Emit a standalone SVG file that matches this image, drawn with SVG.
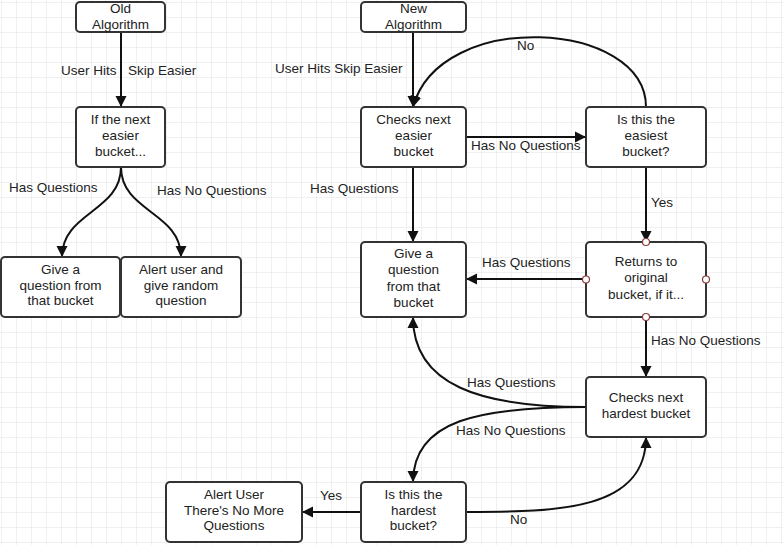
<svg xmlns="http://www.w3.org/2000/svg" width="783" height="545" viewBox="0 0 783 545">
  <style>
    .box { fill: #ffffff; stroke: #333333; stroke-width: 2; }
    .lbl { font-family: "Liberation Sans", Arial, sans-serif; font-size: 13.5px; fill: #222222; }
    .txt { font-family: "Liberation Sans", Arial, sans-serif; font-size: 13.5px; fill: #222222; text-anchor: middle; }
    .edge { fill: none; stroke: #111111; stroke-width: 2; marker-end: url(#arrow); }
    .port { fill: #ffffff; stroke: #8a3b3b; stroke-width: 1.2; }
  </style>
  <defs>
    <pattern id="grid" x="1" y="2" width="15" height="15" patternUnits="userSpaceOnUse">
      <path d="M0,0 H15 M0,0 V15" fill="none" stroke="#e2e2e2" stroke-width="1"/>
    </pattern>
    <marker id="arrow" markerUnits="userSpaceOnUse" markerWidth="12" markerHeight="12" refX="11" refY="6" orient="auto">
      <path d="M0,0.5 L11,6 L0,11.5 z" fill="#111111"/>
    </marker>
  </defs>

  <!-- background with grid -->
  <rect width="783" height="545" fill="#ffffff"/>
  <rect width="783" height="545" fill="url(#grid)"/>

  <!-- connectors -->
  <g id="connectors">
    <!-- old algorithm -->
    <path class="edge" d="M121,32 L121,107"/>
    <path class="edge" d="M121,167 C121,212 62,212 62,257"/>
    <path class="edge" d="M121,167 C121,212 181,212 181,257"/>
    <!-- new algorithm -->
    <path class="edge" d="M413,32 L413,107"/>
    <path class="edge" d="M466,137 L586,137"/>
    <path class="edge" d="M646,107 C646,20 440,8 413,107"/>
    <path class="edge" d="M646,167 L646,242"/>
    <path class="edge" d="M413,167 L413,242"/>
    <path class="edge" d="M586,279 L466,279"/>
    <path class="edge" d="M646,317 L646,377"/>
    <path class="edge" d="M586,407 C480,407 413,385 413,317"/>
    <path class="edge" d="M586,407 C480,407 413,420 413,482"/>
    <path class="edge" d="M466,512 C560,512 646,510 646,437"/>
    <path class="edge" d="M361,512 L302,512"/>

    <!-- connector labels -->
    <text class="lbl" x="61" y="75">User Hits</text>
    <text class="lbl" x="128" y="75">Skip Easier</text>
    <text class="lbl" x="9" y="192">Has Questions</text>
    <text class="lbl" x="157" y="195">Has No Questions</text>
    <text class="lbl" x="275" y="73">User Hits Skip Easier</text>
    <text class="lbl" x="517" y="50">No</text>
    <text class="lbl" x="471" y="150">Has No Questions</text>
    <text class="lbl" x="310" y="193">Has Questions</text>
    <text class="lbl" x="651" y="207">Yes</text>
    <text class="lbl" x="482" y="267">Has Questions</text>
    <text class="lbl" x="651" y="345">Has No Questions</text>
    <text class="lbl" x="467" y="387">Has Questions</text>
    <text class="lbl" x="456" y="435">Has No Questions</text>
    <text class="lbl" x="320" y="500">Yes</text>
    <text class="lbl" x="510" y="524">No</text>
  </g>

  <!-- old algorithm nodes -->
  <g id="old-algorithm">
    <rect class="box" x="76" y="2" width="89" height="30" rx="4"/>
    <text class="txt" x="120.5" y="13">Old</text>
    <text class="txt" x="120.5" y="29">Algorithm</text>
  </g>
  <g id="old-next-easier">
    <rect class="box" x="76" y="107" width="89" height="60" rx="4"/>
    <text class="txt" x="120.5" y="124">If the next</text>
    <text class="txt" x="120.5" y="140">easier</text>
    <text class="txt" x="120.5" y="156">bucket...</text>
  </g>
  <g id="old-give-question">
    <rect class="box" x="1" y="257" width="119" height="60" rx="4"/>
    <text class="txt" x="60.5" y="274">Give a</text>
    <text class="txt" x="60.5" y="290">question from</text>
    <text class="txt" x="60.5" y="305">that bucket</text>
  </g>
  <g id="old-alert-random">
    <rect class="box" x="121" y="257" width="120" height="60" rx="4"/>
    <text class="txt" x="181" y="274">Alert user and</text>
    <text class="txt" x="181" y="290">give random</text>
    <text class="txt" x="181" y="305">question</text>
  </g>

  <!-- new algorithm nodes -->
  <g id="new-algorithm">
    <rect class="box" x="361" y="2" width="105" height="30" rx="4"/>
    <text class="txt" x="413.5" y="13">New</text>
    <text class="txt" x="413.5" y="29">Algorithm</text>
  </g>
  <g id="checks-next-easier">
    <rect class="box" x="361" y="107" width="105" height="60" rx="4"/>
    <text class="txt" x="413.5" y="124">Checks next</text>
    <text class="txt" x="413.5" y="140">easier</text>
    <text class="txt" x="413.5" y="156">bucket</text>
  </g>
  <g id="is-easiest">
    <rect class="box" x="586" y="107" width="120" height="60" rx="4"/>
    <text class="txt" x="646" y="124">Is this the</text>
    <text class="txt" x="646" y="140">easiest</text>
    <text class="txt" x="646" y="156">bucket?</text>
  </g>
  <g id="new-give-question">
    <rect class="box" x="361" y="242" width="105" height="75" rx="4"/>
    <text class="txt" x="413.5" y="258">Give a</text>
    <text class="txt" x="413.5" y="274">question</text>
    <text class="txt" x="413.5" y="291">from that</text>
    <text class="txt" x="413.5" y="307">bucket</text>
  </g>
  <g id="returns-original">
    <rect class="box" x="586" y="242" width="120" height="75" rx="4"/>
    <text class="txt" x="646" y="266">Returns to</text>
    <text class="txt" x="646" y="282">original</text>
    <text class="txt" x="646" y="299">bucket, if it...</text>
    <circle class="port" cx="646" cy="242" r="3.5"/>
    <circle class="port" cx="586" cy="279.5" r="3.5"/>
    <circle class="port" cx="706" cy="279.5" r="3.5"/>
    <circle class="port" cx="646" cy="317" r="3.5"/>
  </g>
  <g id="checks-next-hardest">
    <rect class="box" x="586" y="377" width="120" height="60" rx="4"/>
    <text class="txt" x="646" y="402">Checks next</text>
    <text class="txt" x="646" y="418">hardest bucket</text>
  </g>
  <g id="is-hardest">
    <rect class="box" x="361" y="482" width="105" height="60" rx="4"/>
    <text class="txt" x="413.5" y="499">Is this the</text>
    <text class="txt" x="413.5" y="515">hardest</text>
    <text class="txt" x="413.5" y="530">bucket?</text>
  </g>
  <g id="alert-no-more">
    <rect class="box" x="166" y="482" width="136" height="60" rx="4"/>
    <text class="txt" x="234" y="499">Alert User</text>
    <text class="txt" x="234" y="515">There's No More</text>
    <text class="txt" x="234" y="530">Questions</text>
  </g>
</svg>
